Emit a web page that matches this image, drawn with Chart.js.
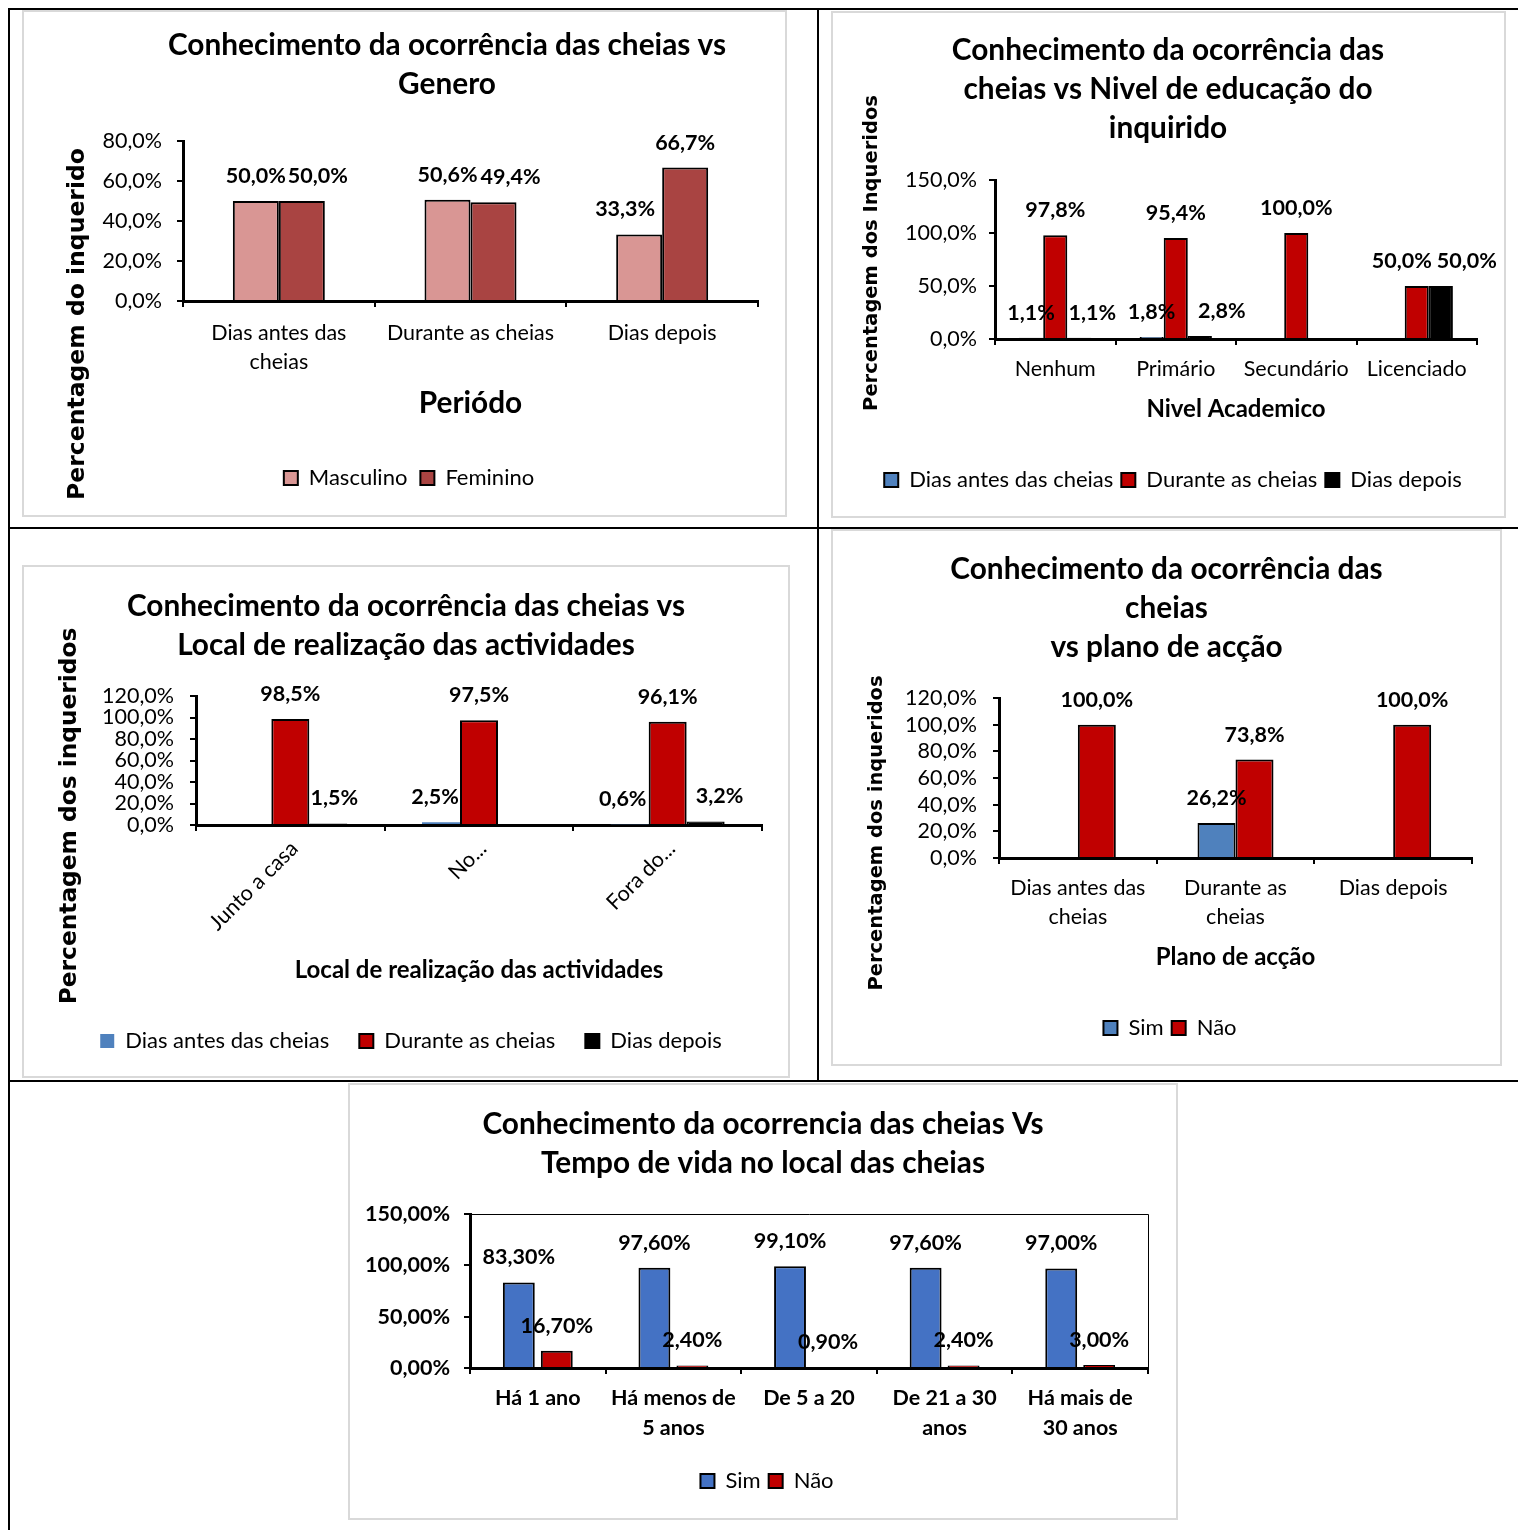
<!DOCTYPE html>
<html lang="pt">
<head>
<meta charset="utf-8">
<title>Conhecimento da ocorrência das cheias</title>
<script src="https://cdn.jsdelivr.net/npm/chart.js@4.4.1/dist/chart.umd.min.js"></script>
<style>
  html, body { margin: 0; padding: 0; background: #fff; }
  #page { position: relative; width: 1518px; height: 1530px; overflow: hidden; background: #fff; }
  .rule { position: absolute; background: #000; }
  .panel { position: absolute; background: #fff; }
  .panel canvas { position: absolute; left: 0; top: 0; }
  .frame { position: absolute; left: 0; top: 0; right: 0; bottom: 0; border: 2px solid #d9d9d9; box-sizing: border-box; pointer-events: none; }
</style>
</head>
<body>
<div id="page">
  <div class="rule" style="left:8px;top:8px;width:1510px;height:2px"></div>
  <div class="rule" style="left:8px;top:8px;width:2px;height:1522px"></div>
  <div class="rule" style="left:817px;top:8px;width:2px;height:1073px"></div>
  <div class="rule" style="left:8px;top:527px;width:1510px;height:2px"></div>
  <div class="rule" style="left:8px;top:1080px;width:1510px;height:2px"></div>

  <div class="panel" style="left:22px;top:10px;width:765px;height:507px"><canvas id="chartGenero" width="765" height="507"></canvas><div class="frame"></div></div>
  <div class="panel" style="left:831px;top:11px;width:675px;height:507px"><canvas id="chartEducacao" width="675" height="507"></canvas><div class="frame"></div></div>
  <div class="panel" style="left:22px;top:565px;width:768px;height:513px"><canvas id="chartLocal" width="768" height="513"></canvas><div class="frame"></div></div>
  <div class="panel" style="left:831px;top:529px;width:671px;height:537px"><canvas id="chartPlano" width="671" height="537"></canvas><div class="frame"></div></div>
  <div class="panel" style="left:348px;top:1083px;width:830px;height:437px"><canvas id="chartTempo" width="830" height="437"></canvas><div class="frame"></div></div>
</div>

<script>
// ---- data ----
const periodLabels = [['Dias antes das', 'cheias'], 'Durante as cheias', 'Dias depois'];
const genderMale = [50.0, 50.6, 33.3];
const genderFemale = [50.0, 49.4, 66.7];

const eduLabels = ['Nenhum', 'Primário', 'Secundário', 'Licenciado'];
const eduBefore = [1.1, 1.8, null, null];
const eduDuring = [97.8, 95.4, 100.0, 50.0];
const eduAfter = [1.1, 2.8, null, 50.0];

const placeLabels = ['Junto a casa', 'No...', 'Fora do...'];
const placeBefore = [null, 2.5, 0.6];
const placeDuring = [98.5, 97.5, 96.1];
const placeAfter = [1.5, null, 3.2];

const planLabels = [['Dias antes das', 'cheias'], ['Durante as', 'cheias'], 'Dias depois'];
const planYes = [null, 26.2, null];
const planNo = [100.0, 73.8, 100.0];

const timeLabels = ['Há 1 ano', ['Há menos de', '5 anos'], 'De 5 a 20', ['De 21 a 30', 'anos'], ['Há mais de', '30 anos']];
const timeYes = [83.3, 97.6, 99.1, 97.6, 97.0];
const timeNo = [16.7, 2.4, 0.9, 2.4, 3.0];

// ---- styling ----
const LATO = 'Lato, "Liberation Sans", Arial, sans-serif';
const DEJAVU = '"DejaVu Sans", Verdana, sans-serif';
const PINK = '#D99694', BRICK = '#A94442', BLUE = '#4F81BD', BLUE2 = '#4472C4', RED = '#C00000', BLACK = '#000000';

Chart.defaults.font.family = LATO;
Chart.defaults.color = '#000';

function pct(v, decimals) {
  return Number(v).toFixed(decimals).replace('.', ',') + '%';
}

// value printed above each bar
const valueLabels = {
  id: 'valueLabels',
  afterDatasetsDraw(chart, _args, opts) {
    if (!opts || opts.decimals === undefined) return;
    const ctx = chart.ctx;
    ctx.save();
    ctx.font = 'bold ' + opts.size + 'px ' + LATO;
    ctx.fillStyle = '#000';
    ctx.textAlign = 'center';
    ctx.textBaseline = 'middle';
    chart.data.datasets.forEach((ds, di) => {
      const meta = chart.getDatasetMeta(di);
      const shifts = (opts.shift && opts.shift[di]) || [];
      meta.data.forEach((bar, i) => {
        const v = ds.data[i];
        if (v === null || v === undefined) return;
        ctx.fillText(pct(v, opts.decimals), bar.x + (shifts[i] || 0), bar.y - opts.gap);
      });
    });
    ctx.restore();
  }
};

// rotated title at the left side of the panel
const sideTitle = {
  id: 'sideTitle',
  afterDraw(chart, _args, opts) {
    if (!opts || !opts.text) return;
    const ctx = chart.ctx;
    ctx.save();
    ctx.translate(opts.x, opts.y);
    ctx.rotate(-Math.PI / 2);
    ctx.font = 'bold ' + opts.size + 'px ' + DEJAVU;
    ctx.fillStyle = '#000';
    ctx.textAlign = 'center';
    ctx.textBaseline = 'middle';
    ctx.fillText(opts.text, 0, 0);
    ctx.restore();
  }
};

// horizontal nudge of the chart title block
const titleShift = {
  id: 'titleShift',
  afterLayout(chart, _args, opts) {
    const t = chart.titleBlock;
    if (t && opts && opts.dx) { t.left += opts.dx; t.right += opts.dx; }
  }
};

// top and right edges of the plot area
const plotFrame = {
  id: 'plotFrame',
  beforeDatasetsDraw(chart, _args, opts) {
    if (!opts || !opts.color) return;
    const { left, top, right, bottom } = chart.chartArea;
    const ctx = chart.ctx;
    ctx.save();
    ctx.strokeStyle = opts.color;
    ctx.lineWidth = opts.width;
    ctx.beginPath();
    ctx.moveTo(left, top + 0.5);
    ctx.lineTo(right + 0.5, top + 0.5);
    ctx.lineTo(right + 0.5, bottom);
    ctx.stroke();
    ctx.restore();
  }
};

Chart.register(valueLabels, sideTitle, titleShift, plotFrame);

function categoryAxis(o) {
  return {
    type: 'category',
    offset: true,
    grid: { display: true, offset: true, drawOnChartArea: false, drawTicks: true, tickLength: 6, color: '#000', lineWidth: 2 },
    border: { display: true, color: '#000', width: 3 },
    ticks: {
      autoSkip: false, color: '#000', padding: o.pad, labelOffset: o.labelOffset || 0,
      maxRotation: o.rotate || 0, minRotation: o.rotate || 0,
      font: { family: LATO, size: 21.5, weight: o.bold ? 'bold' : 'normal', lineHeight: o.lineHeight || 1.2 }
    },
    title: o.title
      ? { display: true, text: o.title, color: '#000', font: { family: LATO, size: o.titleSize, weight: 'bold', lineHeight: 1.2 }, padding: { top: 0, bottom: o.titlePad } }
      : { display: false },
    afterFit(scale) { scale.height = o.height; }
  };
}

function valueAxis(o) {
  return {
    type: 'linear', min: 0, max: o.max,
    grid: { display: true, drawOnChartArea: false, drawTicks: true, tickLength: 6, color: '#000', lineWidth: 2 },
    border: { display: true, color: '#000', width: 3 },
    ticks: {
      stepSize: o.step, padding: o.pad, color: '#000', autoSkip: false,
      font: { family: LATO, size: 21.5, weight: o.bold ? 'bold' : 'normal' },
      callback: (v) => pct(v, o.decimals)
    },
    afterFit(scale) { scale.width = o.width; }
  };
}

// empty strip on the right of the plot
function spacerAxis(width) {
  return {
    type: 'linear', position: 'right', display: true,
    grid: { display: false, drawTicks: false },
    border: { display: false },
    ticks: { display: false },
    afterFit(scale) { scale.width = width; }
  };
}

function chartTitle(lines, top, bottom) {
  return { display: true, text: lines, color: '#000', font: { family: LATO, size: 29.8, weight: 'bold', lineHeight: '39px' }, padding: { top: top, bottom: bottom } };
}

function legendBelow(gap) {
  return { display: true, position: 'bottom', labels: { boxWidth: 14, boxHeight: 14, padding: gap, color: '#000', font: { family: LATO, size: 22 } } };
}

const common = { responsive: false, maintainAspectRatio: false, animation: false, devicePixelRatio: 1, events: [] };

// 1. gender
new Chart(document.getElementById('chartGenero'), {
  type: 'bar',
  data: {
    labels: periodLabels,
    datasets: [
      { label: 'Masculino', data: genderMale, backgroundColor: PINK, borderColor: BLACK, borderWidth: 2 },
      { label: 'Feminino', data: genderFemale, backgroundColor: BRICK, borderColor: BLACK, borderWidth: 2 }
    ]
  },
  options: Object.assign({}, common, {
    layout: { padding: { left: 38, right: 29, top: 0, bottom: 18 } },
    datasets: { bar: { categoryPercentage: 0.48, barPercentage: 1 } },
    scales: {
      x: categoryAxis({ height: 153, pad: 11.5, lineHeight: '29px', title: 'Periódo', titleSize: 29.8, titlePad: 32.6 }),
      y: valueAxis({ max: 80, step: 20, decimals: 1, width: 123, pad: 15 })
    },
    plugins: {
      title: chartTitle(['Conhecimento da ocorrência das cheias vs', 'Genero'], 15.5, 37.5),
      legend: legendBelow(13),
      tooltip: { enabled: false },
      titleShift: { dx: 38 },
      sideTitle: { text: 'Percentagem do inquerido', x: 56, y: 314, size: 23.5 },
      valueLabels: { decimals: 1, size: 21.5, gap: 25, shift: [[0, 0, -14], [16, 17, 0]] }
    }
  })
});

// 2. education level
new Chart(document.getElementById('chartEducacao'), {
  type: 'bar',
  data: {
    labels: eduLabels,
    datasets: [
      { label: 'Dias antes das cheias', data: eduBefore, backgroundColor: BLUE, borderColor: BLACK, borderWidth: 2 },
      { label: 'Durante as cheias', data: eduDuring, backgroundColor: RED, borderColor: BLACK, borderWidth: 2 },
      { label: 'Dias depois', data: eduAfter, backgroundColor: BLACK, borderColor: BLACK, borderWidth: 2 }
    ]
  },
  options: Object.assign({}, common, {
    layout: { padding: { left: 38, right: 29, top: 0, bottom: 17 } },
    datasets: { bar: { categoryPercentage: 0.6, barPercentage: 1 } },
    scales: {
      x: categoryAxis({ height: 122, pad: 9.5, lineHeight: '29px', title: 'Nivel Academico', titleSize: 24, titlePad: 37.6 }),
      y: valueAxis({ max: 150, step: 50, decimals: 1, width: 126, pad: 12 })
    },
    plugins: {
      title: chartTitle(['Conhecimento da ocorrência das', 'cheias vs Nivel de educação do', 'inquirido'], 19.5, 32.5),
      legend: legendBelow(8),
      tooltip: { enabled: false },
      titleShift: { dx: -5 },
      sideTitle: { text: 'Percentagem dos Inqueridos', x: 41, y: 242, size: 19.5 },
      valueLabels: { decimals: 1, size: 21.5, gap: 25, shift: [[0, 0, 0, 0], [0, 0, 0, -15], [13, 22, 0, 26]] }
    }
  })
});

// 3. place of activities
new Chart(document.getElementById('chartLocal'), {
  type: 'bar',
  data: {
    labels: placeLabels,
    datasets: [
      { label: 'Dias antes das cheias', data: placeBefore, backgroundColor: BLUE, borderColor: BLUE, borderWidth: 0 },
      { label: 'Durante as cheias', data: placeDuring, backgroundColor: RED, borderColor: BLACK, borderWidth: 2 },
      { label: 'Dias depois', data: placeAfter, backgroundColor: BLACK, borderColor: BLACK, borderWidth: 2 }
    ]
  },
  options: Object.assign({}, common, {
    layout: { padding: { left: 38, right: 28, top: 0, bottom: 16 } },
    datasets: { bar: { categoryPercentage: 0.604, barPercentage: 1 } },
    scales: {
      x: categoryAxis({ height: 175, pad: 5, labelOffset: 4, rotate: 45, title: 'Local de realização das actividades', titleSize: 24, titlePad: 15.6 }),
      y: valueAxis({ max: 120, step: 20, decimals: 1, width: 136, pad: 16 })
    },
    plugins: {
      title: chartTitle(['Conhecimento da ocorrência das cheias vs', 'Local de realização das actividades'], 21.5, 31.5),
      legend: legendBelow(30),
      tooltip: { enabled: false },
      titleShift: { dx: -5 },
      sideTitle: { text: 'Percentagem dos inqueridos', x: 48, y: 251, size: 23.3 },
      valueLabels: { decimals: 1, size: 21.5, gap: 25, shift: [[0, -6, -7], [0, 0, 0], [6, 0, 14]] }
    }
  })
});

// 4. action plan
new Chart(document.getElementById('chartPlano'), {
  type: 'bar',
  data: {
    labels: planLabels,
    datasets: [
      { label: 'Sim', data: planYes, backgroundColor: BLUE, borderColor: BLACK, borderWidth: 2 },
      { label: 'Não', data: planNo, backgroundColor: RED, borderColor: BLACK, borderWidth: 2 }
    ]
  },
  options: Object.assign({}, common, {
    layout: { padding: { left: 37, right: 30, top: 0, bottom: 17 } },
    datasets: { bar: { categoryPercentage: 0.482, barPercentage: 1 } },
    scales: {
      x: categoryAxis({ height: 151, pad: 9.5, lineHeight: '29px', title: 'Plano de acção', titleSize: 24, titlePad: 37.6 }),
      y: valueAxis({ max: 120, step: 20, decimals: 1, width: 131, pad: 16 })
    },
    plugins: {
      title: chartTitle(['Conhecimento da ocorrência das', 'cheias', 'vs plano de acção'], 20.5, 31.5),
      legend: legendBelow(8),
      tooltip: { enabled: false },
      titleShift: { dx: -3.5 },
      sideTitle: { text: 'Percentagem dos inqueridos', x: 46, y: 304, size: 19.5 },
      valueLabels: { decimals: 1, size: 21.5, gap: 25, shift: [] }
    }
  })
});

// 5. time living in the flood area
new Chart(document.getElementById('chartTempo'), {
  type: 'bar',
  data: {
    labels: timeLabels,
    datasets: [
      { label: 'Sim', data: timeYes, backgroundColor: BLUE2, borderColor: BLACK, borderWidth: 2 },
      { label: 'Não', data: timeNo, backgroundColor: RED, borderColor: BLACK, borderWidth: 2 }
    ]
  },
  options: Object.assign({}, common, {
    layout: { padding: { left: 10, right: 2, top: 0, bottom: 18 } },
    datasets: { bar: { categoryPercentage: 0.56, barPercentage: 0.84 } },
    scales: {
      x: categoryAxis({ height: 94, pad: 9.5, lineHeight: '30px', bold: true }),
      y: valueAxis({ max: 150, step: 50, decimals: 2, width: 112, pad: 14, bold: true }),
      gutter: spacerAxis(28)
    },
    plugins: {
      title: chartTitle(['Conhecimento da ocorrencia das cheias Vs', 'Tempo de vida no local das cheias'], 21.5, 31.5),
      legend: legendBelow(8),
      tooltip: { enabled: false },
      titleShift: { dx: -4 },
      plotFrame: { color: '#000', width: 1 },
      valueLabels: { decimals: 2, size: 21.5, gap: 25, shift: [] }
    }
  })
});
</script>
</body>
</html>
